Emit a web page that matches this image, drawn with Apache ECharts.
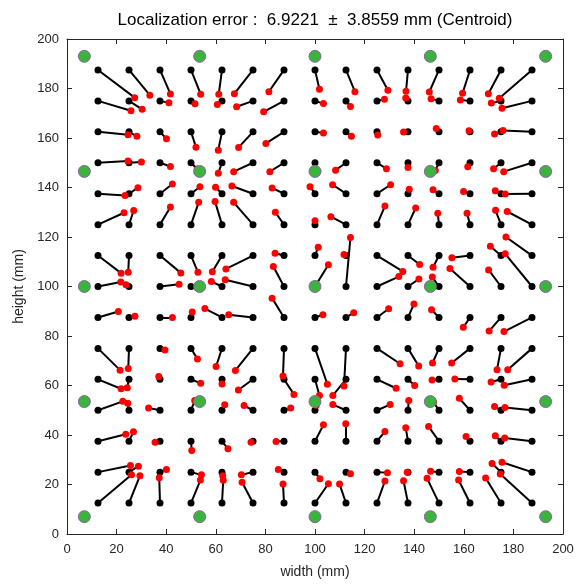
<!DOCTYPE html>
<html><head><meta charset="utf-8">
<script src="https://cdn.jsdelivr.net/npm/echarts@6/dist/echarts.min.js"></script>
<style>html,body{margin:0;padding:0;background:#fff}#c{width:585px;height:584px}</style>
</head><body><div id="c"></div>
<script>
const titleText = 'Localization error :  6.9221  \u00b1  3.8559 mm (Centroid)';
const xName = 'width (mm)';
const yName = 'height (mm)';
const axisMin = 0, axisMax = 200, axisStep = 20;
// true target grid (black points)
const gridCols = [12.5,25,37.5,50,62.5,75,87.5,100,112.5,125,137.5,150,162.5,175,187.5];
const gridRows = [187.5,175,162.5,150,137.5,125,112.5,100,87.5,75,62.5,50,37.5,25,12.5];
// anchors (green points)
const anchorX = [7,53.5,100,146.5,193];
const anchorY = [7,53.5,100,146.5,193];
// estimated positions (red points), one array per grid row, columns left to right
const est187_5 = [[27.3,176.3],[33.4,177.3],[41.7,177.8],[53.9,177.7],[61.2,177.7],[67.5,177.9],[81.4,178.7],[101.8,179.7],[116.1,178.7],[129.4,179.3],[136.7,178.9],[146.1,178.6],[159.5,178.1],[169.9,177.9],[174.3,176.1]];
const est175 = [[25.8,171.0],[30.3,171.6],[41.1,174.2],[51.6,173.8],[60.6,173.5],[68.4,172.6],[79.3,170.6],[103.4,173.9],[114.3,172.7],[128.0,175.7],[136.6,176.2],[146.8,175.9],[158.6,175.4],[171.1,174.1],[175.4,172.0]];
const est162_5 = [[24.6,161.3],[28.2,160.7],[40.1,159.7],[52.0,156.3],[61.0,155.1],[69.2,156.2],[80.2,157.8],[103.4,162.0],[114.7,160.7],[125.3,161.2],[135.7,162.4],[148.9,163.8],[162.1,162.9],[172.4,161.6],[175.8,163.0]];
const est150 = [[24.6,150.7],[30.0,150.3],[41.7,148.5],[52.5,147.5],[61.0,145.8],[67.2,146.4],[81.8,146.4],[101.1,146.6],[108.3,147.0],[128.8,147.6],[137.5,148.1],[148.5,146.9],[161.6,148.4],[172.0,147.6],[176.1,146.4]];
const est137_5 = [[23.4,136.8],[28.6,139.9],[42.5,141.4],[53.6,140.3],[59.9,140.1],[66.5,140.6],[82.7,139.8],[98.0,140.3],[107.1,141.1],[130.5,141.1],[138.0,139.3],[147.6,139.1],[159.9,138.4],[172.7,138.7],[176.7,137.4]];
const est125 = [[23.0,129.8],[26.9,130.7],[41.7,132.1],[53.1,134.0],[59.7,134.3],[67.2,134.0],[84.0,130.0],[100.0,126.6],[106.4,128.2],[128.2,132.5],[140.6,131.7],[149.5,129.6],[161.3,129.6],[172.8,130.8],[177.5,130.3]];
const est112_5 = [[21.8,105.4],[24.7,105.8],[45.9,105.5],[52.8,105.8],[58.6,106.0],[64.1,107.1],[83.9,113.4],[101.3,115.9],[111.7,112.9],[135.4,106.1],[142.2,108.9],[147.6,107.8],[155.2,111.6],[170.7,116.3],[177.0,120.0]];
const est100 = [[21.7,101.8],[23.8,100.7],[45.2,100.9],[52.5,99.5],[58.2,102.0],[63.8,102.7],[83.2,108.1],[105.4,108.8],[114.3,119.8],[133.8,104.0],[141.9,103.0],[147.3,103.8],[154.4,107.3],[170.0,106.7],[176.7,113.2]];
const est87_5 = [[20.7,89.9],[27.4,88.0],[42.5,87.5],[50.5,89.7],[55.6,91.1],[65.2,88.6],[82.7,95.3],[103.2,88.6],[115.6,89.4],[129.7,91.0],[139.9,92.9],[147.0,90.6],[159.8,83.5],[170.2,82.0],[176.2,81.8]];
const est75 = [[21.4,66.2],[24.7,66.9],[39.5,74.3],[52.6,70.7],[60.1,67.7],[67.9,66.1],[87.1,63.8],[105.0,60.5],[111.7,59.8],[134.3,68.8],[141.8,67.9],[147.4,69.1],[155.1,69.1],[173.4,66.4],[177.7,66.4]];
const est62_5 = [[21.8,58.7],[24.3,59.1],[37.0,63.6],[53.9,60.9],[62.5,60.6],[69.1,58.2],[91.5,56.4],[101.8,56.0],[107.2,56.0],[132.7,58.9],[140.2,60.0],[147.2,62.2],[156.4,62.6],[171.0,61.4],[176.3,60.1]];
const est50 = [[22.5,53.6],[24.5,52.8],[32.9,50.9],[51.5,53.9],[63.6,52.2],[71.4,51.9],[90.2,50.9],[100.5,52.0],[107.2,52.3],[130.3,52.3],[137.8,53.9],[147.8,53.2],[158.2,54.8],[172.4,51.5],[176.6,51.1]];
const est37_5 = [[23.7,40.3],[26.8,41.3],[35.5,37.1],[50.3,33.7],[64.9,34.4],[74.2,37.1],[84.3,37.4],[103.4,44.1],[112.4,44.5],[128.2,41.4],[136.6,42.9],[145.8,43.4],[160.9,39.4],[172.7,39.7],[176.5,38.8]];
const est25 = [[25.6,27.7],[28.8,27.4],[40.1,26.1],[54.2,23.9],[62.8,23.5],[70.3,23.9],[85.2,26.1],[102.0,22.3],[114.3,24.3],[129.2,24.7],[137.2,25.0],[146.6,25.4],[158.2,25.3],[171.4,28.5],[175.4,29.0]];
const est12_5 = [[26.0,23.9],[29.4,23.5],[37.2,22.7],[53.8,21.8],[63.0,21.7],[70.6,20.9],[87.1,20.2],[105.4,20.3],[109.9,20.2],[128.2,21.4],[135.7,21.5],[145.2,22.5],[157.9,21.8],[168.8,22.6],[174.7,24.2]];
const estRows = [est187_5,est175,est162_5,est150,est137_5,est125,est112_5,est100,est87_5,est75,est62_5,est50,est37_5,est25,est12_5];

const truePts = [], estPts = [], links = [], anchors = [];
gridRows.forEach((gy, r) => {
  gridCols.forEach((gx, c) => {
    const e = estRows[r][c];
    truePts.push([gx, gy]);
    estPts.push(e);
    links.push({coords: [[gx, gy], e]});
  });
});
anchorY.forEach(ay => anchorX.forEach(ax => anchors.push([ax, ay])));

const axCol = '#262626';
const font = 'Liberation Sans, Arial, Helvetica, sans-serif';
function xa(pos, labels) {
  return {type:'value', min:axisMin, max:axisMax, interval:axisStep, position:pos,
    axisLine:{show:true, onZero:false, lineStyle:{color:axCol, width:1}},
    axisTick:{show:true, inside:true, length:5, lineStyle:{color:axCol}},
    axisLabel:{show:labels, color:axCol, fontSize:13, fontFamily:font, margin:9},
    splitLine:{show:false},
    name: labels ? xName : '', nameLocation:'middle', nameGap:31,
    nameTextStyle:{color:axCol, fontSize:14, fontFamily:font}};
}
function ya(pos, labels) {
  return {type:'value', min:axisMin, max:axisMax, interval:axisStep, position:pos,
    axisLine:{show:true, onZero:false, lineStyle:{color:axCol, width:1}},
    axisTick:{show:true, inside:true, length:5, lineStyle:{color:axCol}},
    axisLabel:{show:labels, color:axCol, fontSize:13, fontFamily:font, margin:8},
    splitLine:{show:false},
    name: labels ? yName : '', nameLocation:'middle', nameGap:31, nameRotate:90,
    nameTextStyle:{color:axCol, fontSize:14, fontFamily:font}};
}
const chart = echarts.init(document.getElementById('c'), null, {renderer:'canvas'});
chart.setOption({
  animation:false,
  backgroundColor:'#fff',
  title:{text:titleText, left:310, top:7, textAlign:'center',
    textStyle:{color:'#000', fontSize:17, fontWeight:'normal', fontFamily:font}},
  grid:{left:67, top:39, width:496, height:497},
  xAxis:[xa('bottom', true), xa('top', false)],
  yAxis:[ya('left', true), ya('right', false)],
  series:[
    {type:'lines', coordinateSystem:'cartesian2d', xAxisIndex:0, yAxisIndex:0, data:links,
      lineStyle:{color:'#000', width:2, opacity:1}, silent:true},
    {type:'scatter', xAxisIndex:0, yAxisIndex:0, data:truePts, symbolSize:7,
      itemStyle:{color:'#000', opacity:1}},
    {type:'scatter', xAxisIndex:0, yAxisIndex:0, data:estPts, symbolSize:7,
      itemStyle:{color:'#ff0000', opacity:1}},
    {type:'scatter', xAxisIndex:0, yAxisIndex:0, data:anchors, symbolSize:12,
      itemStyle:{color:'#3cb33c', borderColor:'#8a62a8', borderWidth:1, opacity:1}}
  ]
});
</script></body></html>
